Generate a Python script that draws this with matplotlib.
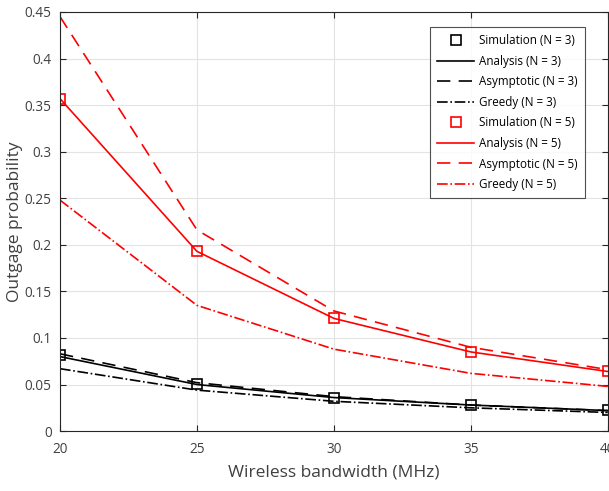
import matplotlib
matplotlib.use("Agg")
import matplotlib.pyplot as plt

plt.rcParams["font.family"] = ["Open Sans", "DejaVu Sans"]

bandwidth = [20, 25, 30, 35, 40]

sim_n3 = [0.082, 0.051, 0.036, 0.028, 0.023]
ana_n3 = [0.080, 0.050, 0.036, 0.028, 0.022]
asy_n3 = [0.083, 0.052, 0.037, 0.028, 0.022]
gre_n3 = [0.067, 0.044, 0.032, 0.025, 0.020]

sim_n5 = [0.357, 0.193, 0.121, 0.085, 0.064]
ana_n5 = [0.357, 0.193, 0.121, 0.085, 0.064]
asy_n5 = [0.445, 0.216, 0.129, 0.090, 0.066]
gre_n5 = [0.248, 0.135, 0.088, 0.062, 0.048]

ytick_vals = [0, 0.05, 0.1, 0.15, 0.2, 0.25, 0.3, 0.35, 0.4, 0.45]
ytick_text = ["0", "0.05", "0.1", "0.15", "0.2", "0.25", "0.3", "0.35", "0.4", "0.45"]

fig = plt.figure(figsize=(6.09, 4.91), dpi=100)
ax = fig.add_axes([0.0985, 0.122, 0.8995, 0.8536])

ms = 6.5
ax.plot(bandwidth, sim_n3, "s", color="black", mfc="none", ms=ms, mew=1.2, label="Simulation (N = 3)")
ax.plot(bandwidth, ana_n3, "-", color="black", lw=1.2, label="Analysis (N = 3)")
ax.plot(bandwidth, asy_n3, "--", color="black", lw=1.2, dashes=(8, 5), label="Asymptotic (N = 3)")
ax.plot(bandwidth, gre_n3, "-.", color="black", lw=1.2, label="Greedy (N = 3)")
ax.plot(bandwidth, sim_n5, "s", color="red", mfc="none", ms=ms, mew=1.2, label="Simulation (N = 5)")
ax.plot(bandwidth, ana_n5, "-", color="red", lw=1.2, label="Analysis (N = 5)")
ax.plot(bandwidth, asy_n5, "--", color="red", lw=1.2, dashes=(8, 5), label="Asymptotic (N = 5)")
ax.plot(bandwidth, gre_n5, "-.", color="red", lw=1.2, label="Greedy (N = 5)")

ax.set_xlim(20, 40)
ax.set_ylim(0, 0.45)
ax.set_xticks(bandwidth)
ax.set_yticks(ytick_vals)
ax.set_yticklabels(ytick_text)
ax.grid(True, color="#e3e3e3", lw=0.8)
ax.set_axisbelow(True)
ax.tick_params(direction="in", top=True, right=True, labelsize=9.8,
               colors="#262626", labelcolor="#404040", length=4)
ax.tick_params(axis="x", pad=8)
ax.tick_params(axis="y", pad=6)
for s in ax.spines.values():
    s.set_color("#262626")
    s.set_linewidth(0.8)

ax.set_xlabel("Wireless bandwidth (MHz)", fontsize=12.5, color="#404040", labelpad=5)
ax.set_ylabel("Outgage probability", fontsize=12.5, color="#404040", labelpad=1)

leg = ax.legend(loc="upper right", bbox_to_anchor=(0.958, 0.964), fontsize=8.4,
                frameon=True, fancybox=False, edgecolor="#262626",
                handlelength=3.2, handletextpad=0.4, labelspacing=0.65,
                borderpad=0.6, borderaxespad=0)
leg.get_frame().set_linewidth(0.8)

fig.savefig("out.png", dpi=100)
